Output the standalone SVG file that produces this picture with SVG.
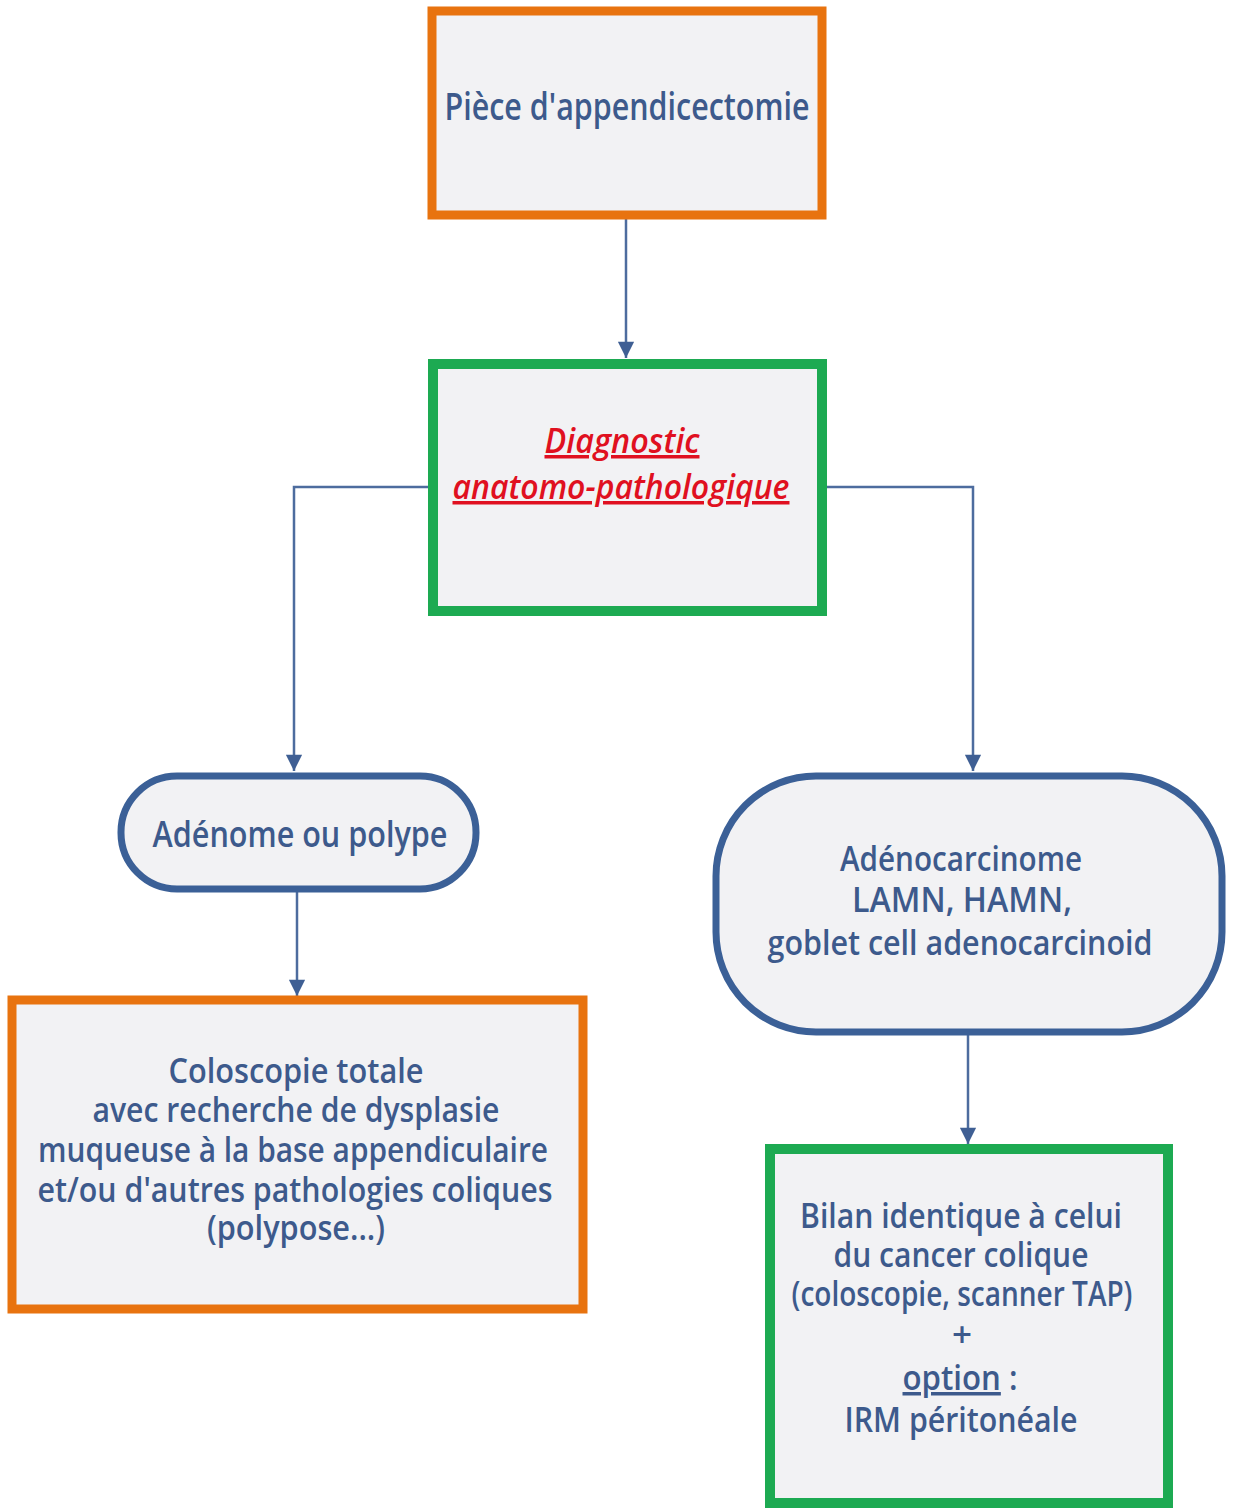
<svg xmlns="http://www.w3.org/2000/svg" width="1235" height="1508" viewBox="0 0 1235 1508">
<style>
.box{fill:#f2f2f4}
.orange{stroke:#e8730f;stroke-width:9}
.green{stroke:#1daa52;stroke-width:10}
.pill{stroke:#3b6097;stroke-width:7}
.t{font-family:"Open Sans","Liberation Sans",sans-serif;font-weight:600;fill:#3d5a8c;text-anchor:middle}
.red{font-family:"Open Sans","Liberation Sans",sans-serif;font-weight:600;fill:#e01020;font-style:italic;text-anchor:middle;text-decoration:underline}
.c{fill:none;stroke:#4d6c9e;stroke-width:2.5}
</style>
<defs>
<marker id="ah" viewBox="0 0 10 10" refX="10" refY="5" markerWidth="8" markerHeight="6.5" markerUnits="strokeWidth" orient="auto">
<path d="M0,0 L10,5 L0,10 z" fill="#3f5f94"/>
</marker>
</defs>
<rect width="1235" height="1508" fill="#ffffff"/>
<g id="connectors">
<path class="c" d="M626,219 V358" marker-end="url(#ah)"/>
<path class="c" d="M428,487 H294 V771" marker-end="url(#ah)"/>
<path class="c" d="M826,487 H973 V771" marker-end="url(#ah)"/>
<path class="c" d="M297,892 V996" marker-end="url(#ah)"/>
<path class="c" d="M968,1035 V1144" marker-end="url(#ah)"/>
</g>
<g id="n1">
<rect class="box orange" x="432" y="11" width="390" height="204"/>
<text class="t" x="627" y="120" font-size="38" textLength="365" lengthAdjust="spacingAndGlyphs">Pièce d'appendicectomie</text>
</g>
<g id="n2">
<rect class="box green" x="433" y="364" width="389" height="247"/>
<text class="red" x="622" y="453" font-size="35" textLength="155" lengthAdjust="spacingAndGlyphs">Diagnostic</text>
<text class="red" x="621" y="499" font-size="35" textLength="337" lengthAdjust="spacingAndGlyphs">anatomo-pathologique</text>
</g>
<g id="n3">
<rect class="box pill" x="121" y="776" width="355" height="113" rx="56"/>
<text class="t" x="300" y="847" font-size="36" textLength="295" lengthAdjust="spacingAndGlyphs">Adénome ou polype</text>
</g>
<g id="n4">
<rect class="box pill" x="716" y="776" width="506" height="256" rx="100"/>
<text class="t" x="961" y="871" font-size="35" textLength="242" lengthAdjust="spacingAndGlyphs">Adénocarcinome</text>
<text class="t" x="962" y="912" font-size="35" textLength="220" lengthAdjust="spacingAndGlyphs">LAMN, HAMN,</text>
<text class="t" x="960" y="955" font-size="35" textLength="385" lengthAdjust="spacingAndGlyphs">goblet cell adenocarcinoid</text>
</g>
<g id="n5">
<rect class="box orange" x="12" y="1000" width="571" height="309"/>
<text class="t" x="296" y="1083" font-size="35" textLength="255" lengthAdjust="spacingAndGlyphs">Coloscopie totale</text>
<text class="t" x="296" y="1122" font-size="35" textLength="407" lengthAdjust="spacingAndGlyphs">avec recherche de dysplasie</text>
<text class="t" x="293" y="1162" font-size="35" textLength="510" lengthAdjust="spacingAndGlyphs">muqueuse à la base appendiculaire</text>
<text class="t" x="295" y="1202" font-size="35" textLength="515" lengthAdjust="spacingAndGlyphs">et/ou d'autres pathologies coliques</text>
<text class="t" x="296" y="1240" font-size="35" textLength="178" lengthAdjust="spacingAndGlyphs">(polypose...)</text>
</g>
<g id="n6">
<rect class="box green" x="770" y="1149" width="398" height="354" stroke-width="9"/>
<text class="t" x="961" y="1228" font-size="35" textLength="322" lengthAdjust="spacingAndGlyphs">Bilan identique à celui</text>
<text class="t" x="961" y="1267" font-size="35" textLength="255" lengthAdjust="spacingAndGlyphs">du cancer colique</text>
<text class="t" x="962" y="1306" font-size="35" textLength="341" lengthAdjust="spacingAndGlyphs">(coloscopie, scanner TAP)</text>
<text class="t" x="962" y="1347" font-size="35">+</text>
<text class="t" x="960" y="1390" font-size="35" textLength="115" lengthAdjust="spacingAndGlyphs"><tspan text-decoration="underline">option</tspan> :</text>
<text class="t" x="961" y="1432" font-size="35" textLength="233" lengthAdjust="spacingAndGlyphs">IRM péritonéale</text>
</g>
</svg>
